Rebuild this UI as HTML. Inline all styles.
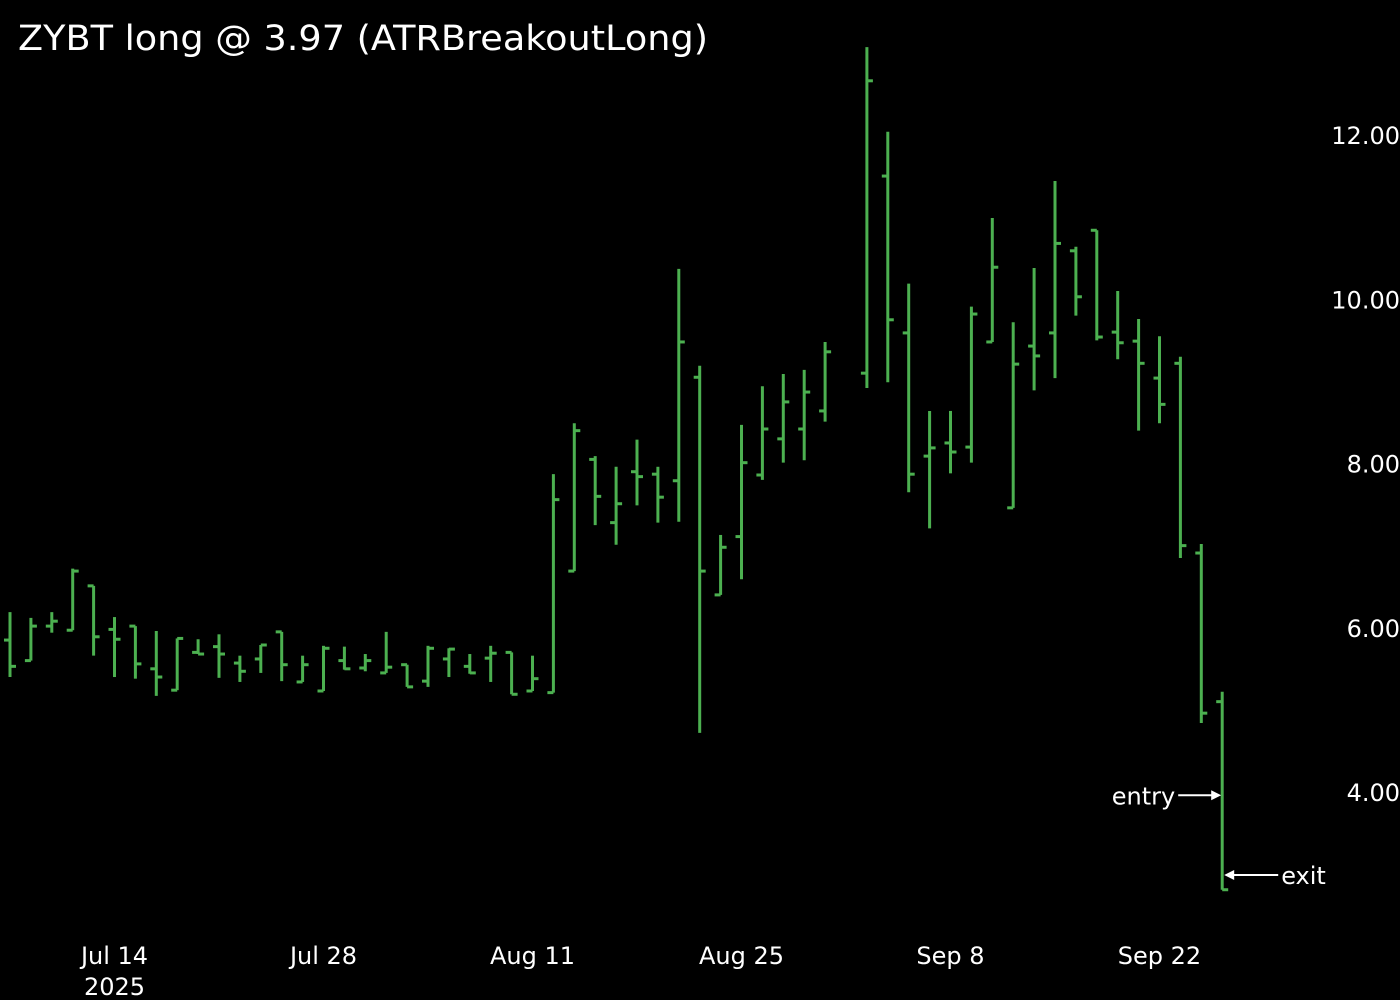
<!DOCTYPE html>
<html><head><meta charset="utf-8"><style>
html,body{margin:0;padding:0;background:#000;}
svg{display:block;}
text{font-family:"DejaVu Sans","Liberation Sans",sans-serif;fill:#fff;}
</style></head><body>
<svg id="chart" width="1400" height="1000" viewBox="0 0 1400 1000" xmlns="http://www.w3.org/2000/svg">
<rect width="1400" height="1000" fill="#000"/>
<text x="18" y="50" font-size="35" textLength="690" lengthAdjust="spacingAndGlyphs">ZYBT long @ 3.97 (ATRBreakoutLong)</text>
<g id="bars"></g>
<g id="yaxis"></g>
<g id="xaxis"></g>
<g id="ann"></g>
</svg>
<script>
const opens  = [5.85,5.60,6.02,5.97,6.51,5.98,6.02,5.50,5.24,5.70,5.77,5.57,5.62,5.95,5.34,5.23,5.60,5.51,5.45,5.55,5.35,5.62,5.53,5.63,5.70,5.23,5.21,6.69,8.05,7.28,7.90,7.87,7.79,9.05,6.40,7.11,7.86,8.30,8.42,8.64,null,9.10,11.50,9.59,8.09,8.25,8.20,9.48,7.46,9.43,9.59,10.59,10.84,9.60,9.49,9.04,9.22,6.91,5.10];
const highs  = [6.19,6.12,6.19,6.72,6.51,6.13,6.02,5.96,5.87,5.86,5.92,5.66,5.79,5.95,5.66,5.78,5.77,5.68,5.95,5.55,5.78,5.75,5.68,5.78,5.70,5.66,7.87,8.49,8.09,7.96,8.29,7.96,10.37,9.19,7.13,8.47,8.94,9.09,9.14,9.48,null,13.07,12.04,10.19,8.64,8.64,9.91,10.99,9.72,10.38,11.44,10.64,10.84,10.10,9.76,9.55,9.30,7.02,5.22];
const lows   = [5.40,5.60,5.94,5.97,5.66,5.40,5.38,5.17,5.24,5.68,5.39,5.34,5.45,5.35,5.34,5.23,5.49,5.47,5.45,5.28,5.28,5.40,5.44,5.34,5.19,5.23,5.21,6.69,7.25,7.01,7.49,7.28,7.29,4.72,6.40,6.59,7.80,8.01,8.04,8.51,null,8.92,8.99,7.65,7.21,7.88,8.01,9.48,7.46,8.89,9.04,9.80,9.50,9.27,8.40,8.49,6.85,4.84,2.81];
const closes = [5.53,6.02,6.08,6.69,5.89,5.86,5.56,5.40,5.87,5.68,5.68,5.47,5.79,5.55,5.55,5.75,5.50,5.60,5.52,5.28,5.75,5.74,5.45,5.69,5.19,5.38,7.56,8.40,7.60,7.51,7.84,7.59,9.48,6.69,6.98,8.01,8.42,8.75,8.87,9.36,null,12.66,9.75,7.87,8.19,8.14,9.82,10.39,9.21,9.31,10.68,10.03,9.54,9.47,9.22,8.72,7.00,4.96,2.81];
const yTicks = [4,6,8,10,12];
const xTickIdx = [5,15,25,35,45,55];
const xTickLabels = ["Jul 14","Jul 28","Aug 11","Aug 25","Sep 8","Sep 22"];
const entryPrice = 3.96, exitPrice = 2.99, tradeIdx = 58;

const NS="http://www.w3.org/2000/svg";
const xs = i => 10 + i*20.9;
const ys = p => 135 + (12-p)*82.125;
function mk(tag, attrs, parent){const e=document.createElementNS(NS,tag);for(const k in attrs)e.setAttribute(k,attrs[k]);parent.appendChild(e);return e;}
const G="#4cb050";
const bars=document.getElementById('bars');
for(let i=0;i<opens.length;i++){
  if(opens[i]===null) continue;
  const g=mk('g',{},bars);
  
  
  const x=xs(i);
  mk('line',{x1:x,x2:x,y1:ys(highs[i]),y2:ys(lows[i]),stroke:G,'stroke-width':3},g);
  mk('line',{x1:x-6,x2:x,y1:ys(opens[i]),y2:ys(opens[i]),stroke:G,'stroke-width':3},g);
  mk('line',{x1:x,x2:x+6,y1:ys(closes[i]),y2:ys(closes[i]),stroke:G,'stroke-width':3},g);
}
const ya=document.getElementById('yaxis');
yTicks.forEach(v=>{
  const t=mk('text',{x:1400,y:ys(v)+9,'font-size':24,'text-anchor':'end'},ya);
  
  
  t.textContent=v.toFixed(2);
});
const xa=document.getElementById('xaxis');
xTickIdx.forEach((idx,k)=>{
  const t=mk('text',{x:xs(idx),y:964,'font-size':24,'text-anchor':'middle'},xa);
  
  
  t.textContent=xTickLabels[k];
});
const yr=mk('text',{x:xs(5),y:995,'font-size':24,'text-anchor':'middle'},xa);


yr.textContent="2025";
const an=document.getElementById('ann');
const bx=xs(tradeIdx);
const ey=ys(entryPrice), xy=ys(exitPrice);
const el=mk('line',{x1:bx-44,x2:bx-8,y1:ey,y2:ey,stroke:'#fff','stroke-width':2},an);


const eh=mk('polygon',{points:`${bx-1},${ey} ${bx-11},${ey-5} ${bx-11},${ey+5}`,fill:'#fff'},an);


const et=mk('text',{x:bx-47,y:ey+9,'font-size':24,'text-anchor':'end'},an);


et.textContent="entry";
const xl=mk('line',{x1:bx+8,x2:bx+56,y1:xy,y2:xy,stroke:'#fff','stroke-width':2},an);


const xh=mk('polygon',{points:`${bx+2},${xy} ${bx+12},${xy-5} ${bx+12},${xy+5}`,fill:'#fff'},an);


const xt=mk('text',{x:bx+59,y:xy+9,'font-size':24},an);


xt.textContent="exit";
</script>
</body></html>
